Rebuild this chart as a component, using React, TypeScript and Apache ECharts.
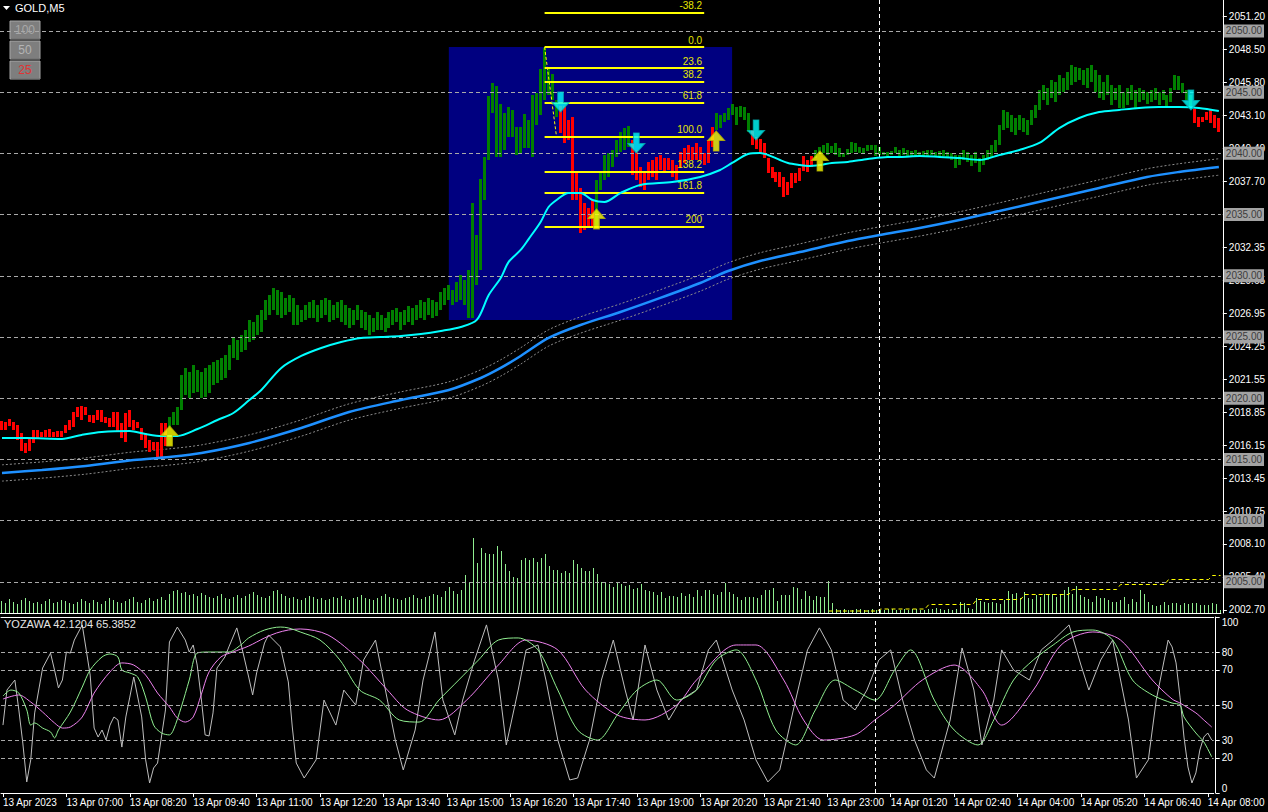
import React, { useEffect, useRef } from "react";
import * as echarts from "echarts";

const FONT = "Liberation Sans, Arial, sans-serif";

// ---------- price bars (M5, 306 bars) ----------
const LOWS = [
  2017.41, 2017.41, 2017.76, 2017.41, 2016.59, 2015.72, 2015.50, 2015.72, 2016.32, 2016.64,
  2016.86, 2016.86, 2016.86, 2016.81, 2016.86, 2016.86, 2017.13, 2017.41, 2017.68, 2018.49,
  2018.22, 2018.63, 2018.09, 2017.95, 2018.22, 2018.09, 2017.95, 2017.68, 2017.68, 2017.27,
  2016.72, 2016.45, 2017.68, 2017.41, 2017.54, 2016.59, 2015.91, 2015.63, 2015.77, 2015.09,
  2015.09, 2016.10, 2017.64, 2017.81, 2017.81, 2019.04, 2020.26, 2020.02, 2020.42, 2020.51,
  2020.02, 2020.10, 2020.42, 2021.08, 2021.24, 2021.49, 2021.65, 2022.30, 2023.28, 2023.12,
  2023.77, 2023.94, 2024.59, 2024.75, 2025.16, 2025.41, 2026.39, 2026.80, 2027.21, 2026.80,
  2026.55, 2026.80, 2027.04, 2025.98, 2025.98, 2026.23, 2026.39, 2026.55, 2026.55, 2026.23,
  2026.55, 2026.80, 2026.23, 2026.39, 2026.55, 2026.23, 2025.98, 2025.74, 2025.98, 2026.39,
  2025.74, 2025.57, 2025.16, 2025.41, 2025.57, 2025.57, 2025.41, 2025.74, 2025.98, 2026.23,
  2025.57, 2025.98, 2026.23, 2025.98, 2026.39, 2026.55, 2026.39, 2026.80, 2026.55, 2026.72,
  2027.21, 2027.61, 2028.02, 2027.61, 2027.86, 2028.02, 2027.61, 2026.55, 2026.55, 2029.25,
  2030.47, 2036.19, 2039.46, 2043.30, 2039.71, 2039.71, 2040.28, 2041.34, 2041.34, 2039.87,
  2040.03, 2040.44, 2040.44, 2039.71, 2042.32, 2043.14, 2044.36, 2044.77, 2044.36, 2042.97,
  2041.67, 2040.85, 2041.09, 2036.19, 2036.19, 2033.50, 2033.74, 2033.91, 2033.91, 2033.99,
  2037.01, 2037.83, 2038.07, 2038.89, 2039.71, 2040.11, 2040.28, 2040.52, 2038.23, 2037.83,
  2037.25, 2037.01, 2037.83, 2038.07, 2037.83, 2038.64, 2038.40, 2038.64, 2038.07, 2037.83,
  2038.89, 2039.22, 2039.46, 2039.46, 2039.46, 2039.46, 2039.05, 2039.22, 2040.52, 2041.91,
  2042.07, 2042.56, 2042.73, 2043.14, 2042.32, 2042.97, 2042.73, 2041.75, 2040.69, 2040.36,
  2040.03, 2039.62, 2038.40, 2037.99, 2037.66, 2037.25, 2036.44, 2036.60, 2037.17, 2037.58,
  2037.74, 2038.56, 2038.48, 2038.89, 2039.62, 2040.03, 2040.03, 2039.87, 2040.03, 2039.87,
  2039.71, 2039.71, 2039.87, 2040.03, 2040.11, 2040.03, 2040.03, 2040.20, 2040.28, 2039.79,
  2039.87, 2039.87, 2039.79, 2039.87, 2040.03, 2039.79, 2039.87, 2039.71, 2039.71, 2039.79,
  2039.71, 2039.71, 2039.79, 2039.87, 2039.71, 2039.71, 2039.79, 2039.62, 2039.46, 2038.81,
  2039.05, 2039.46, 2039.30, 2038.97, 2039.22, 2038.48, 2039.05, 2039.46, 2039.62, 2040.11,
  2040.69, 2041.91, 2042.07, 2041.75, 2041.50, 2041.91, 2041.75, 2041.50, 2042.32, 2042.89,
  2043.55, 2044.36, 2043.95, 2044.53, 2044.20, 2044.77, 2045.02, 2045.18, 2045.59, 2045.83,
  2046.00, 2045.59, 2045.34, 2045.83, 2045.02, 2044.53, 2044.36, 2044.77, 2043.95, 2044.36,
  2043.71, 2043.71, 2043.95, 2044.36, 2043.71, 2044.20, 2044.36, 2044.04, 2044.20, 2044.36,
  2043.95, 2044.36, 2043.71, 2044.20, 2045.18, 2045.18, 2044.93, 2044.36, 2043.71, 2042.48,
  2042.16, 2042.56, 2042.73, 2042.48, 2042.07, 2041.75,
];
const HIGHS = [
  2018.14, 2018.09, 2018.30, 2018.09, 2017.81, 2017.13, 2016.37, 2016.64, 2017.41, 2017.41,
  2017.27, 2017.41, 2017.49, 2017.27, 2017.32, 2017.32, 2017.81, 2018.22, 2018.90, 2019.26,
  2019.37, 2019.31, 2018.63, 2018.63, 2019.04, 2019.04, 2018.49, 2018.36, 2018.90, 2018.90,
  2017.95, 2018.77, 2019.04, 2018.22, 2018.09, 2017.54, 2017.13, 2016.59, 2016.45, 2016.45,
  2017.95, 2017.95, 2018.47, 2018.87, 2019.28, 2021.89, 2022.47, 2022.14, 2022.71, 2022.30,
  2022.14, 2022.47, 2022.71, 2022.96, 2023.12, 2023.28, 2023.53, 2024.35, 2024.92, 2024.75,
  2025.16, 2025.57, 2026.39, 2026.23, 2026.80, 2027.21, 2028.02, 2028.43, 2029.00, 2028.84,
  2028.68, 2028.19, 2028.43, 2028.19, 2027.61, 2027.21, 2027.61, 2027.86, 2028.02, 2027.61,
  2028.02, 2028.19, 2028.02, 2027.61, 2027.86, 2028.02, 2027.61, 2027.37, 2027.21, 2027.61,
  2027.21, 2027.04, 2026.80, 2026.55, 2027.04, 2026.80, 2026.55, 2027.04, 2027.21, 2027.37,
  2027.04, 2027.21, 2027.53, 2027.37, 2027.61, 2028.02, 2027.86, 2028.19, 2028.02, 2027.86,
  2028.68, 2029.00, 2029.25, 2028.84, 2029.49, 2030.06, 2029.66, 2030.47, 2035.94, 2033.33,
  2037.91, 2039.71, 2044.69, 2045.75, 2045.51, 2044.04, 2043.30, 2043.79, 2043.55, 2042.16,
  2042.16, 2043.22, 2042.73, 2044.77, 2044.93, 2046.90, 2048.61, 2047.06, 2046.49, 2044.36,
  2043.87, 2043.87, 2042.73, 2042.97, 2038.40, 2037.17, 2035.94, 2035.53, 2036.19, 2037.83,
  2038.40, 2039.87, 2040.03, 2040.28, 2041.09, 2041.75, 2042.07, 2042.24, 2041.09, 2040.28,
  2038.89, 2038.40, 2039.30, 2039.46, 2039.71, 2039.87, 2039.62, 2039.62, 2039.46, 2039.05,
  2040.11, 2040.44, 2040.69, 2040.52, 2040.85, 2040.52, 2040.03, 2041.09, 2042.16, 2043.30,
  2043.14, 2043.30, 2043.71, 2044.04, 2043.79, 2043.87, 2043.79, 2043.30, 2041.91, 2041.34,
  2041.17, 2040.85, 2039.62, 2038.89, 2038.48, 2038.48, 2038.07, 2037.66, 2038.40, 2038.40,
  2038.81, 2039.79, 2039.46, 2039.79, 2040.28, 2040.52, 2040.69, 2040.85, 2040.60, 2040.85,
  2040.44, 2040.03, 2040.36, 2040.93, 2040.85, 2040.52, 2040.44, 2040.69, 2040.69, 2040.69,
  2040.52, 2040.11, 2040.11, 2040.20, 2040.52, 2040.28, 2040.44, 2040.28, 2040.20, 2040.28,
  2040.11, 2040.20, 2040.28, 2040.28, 2040.11, 2040.20, 2040.28, 2040.11, 2040.03, 2039.87,
  2039.87, 2040.28, 2040.11, 2039.87, 2040.11, 2039.62, 2039.87, 2040.28, 2040.69, 2041.09,
  2042.32, 2043.55, 2043.38, 2043.14, 2042.89, 2043.14, 2042.89, 2042.73, 2043.55, 2043.95,
  2045.18, 2045.59, 2045.34, 2046.00, 2045.83, 2046.41, 2046.16, 2046.65, 2047.22, 2047.06,
  2046.98, 2046.81, 2046.98, 2047.22, 2046.81, 2046.41, 2045.83, 2046.41, 2045.59, 2045.34,
  2045.59, 2045.02, 2045.34, 2045.59, 2045.18, 2045.34, 2045.18, 2045.02, 2045.18, 2045.34,
  2045.02, 2045.18, 2044.77, 2045.34, 2046.41, 2046.32, 2045.75, 2045.18, 2044.77, 2043.63,
  2042.97, 2042.97, 2043.38, 2043.55, 2043.14, 2042.89,
];
// bar colouring of the trend indicator: [from, to, colour]
const TREND: [number, number, string][] = [
  [0, 41, "R"], [42, 139, "G"], [140, 148, "R"], [149, 157, "G"], [158, 178, "R"],
  [179, 187, "G"], [188, 203, "R"], [204, 298, "G"], [299, 305, "R"],
];

// ---------- tick volume ----------
const VOLUMES = [
  240, 200, 280, 220, 180, 260, 300, 240, 200, 220, 180, 240, 280, 200, 220, 260, 240, 200, 180, 220,
  280, 240, 200, 260, 220, 180, 240, 300, 260, 220, 200, 240, 280, 320, 220, 200, 260, 300, 240, 280,
  320, 260,
  380, 440, 460, 400, 420, 360, 380, 340, 400, 360, 320, 300, 340, 380, 300, 280, 320, 360, 300, 340,
  380, 420, 360, 320, 300, 340, 440, 460, 380, 340, 300, 320, 280, 260, 300, 340, 320, 280, 300, 260,
  280, 320, 300, 340, 280, 260, 300, 320, 360, 300, 280, 260, 300, 340, 380, 320, 300, 280, 260, 300,
  320, 360, 300, 280, 320, 340, 380, 360,
  316, 450, 530, 450, 384, 464, 770, 616, 1504, 1004, 1304, 1204, 1184, 1184, 1350, 1250, 984, 850, 730, 704,
  1064, 1104, 1064, 1104, 1024, 1104, 1184, 950, 864, 864, 810, 850, 796, 1064, 984, 904, 850, 850, 904, 784,
  624, 604, 584, 530, 604, 584, 550, 570, 484, 504, 584, 464, 450, 430, 370, 430, 304, 350, 350, 330,
  400, 340, 380, 320, 464, 350, 464, 464, 384, 370, 430, 596, 430, 384, 330, 264, 316, 330, 330, 304,
  370, 464, 464, 504, 250, 370, 370, 370, 516, 504, 284, 436, 350, 264, 350, 330, 316, 650, 210, 84,
  60, 80, 70, 60, 80, 90, 70, 60, 80, 70, 60, 70, 80, 90, 70, 60, 80, 70, 90, 80, 70, 60, 80, 90, 100, 80, 70, 90,
  66, 86, 220, 200, 100, 86, 306, 240, 220, 200, 220, 200, 186, 266, 434, 386, 400, 306, 420, 300,
  286, 354, 320, 374, 374, 374, 320, 386, 454, 520, 386, 540, 354, 320, 286, 220, 340, 306, 306, 254,
  220, 220, 254, 320, 186, 274, 220, 454, 386, 220, 154, 140, 154, 220, 154, 200, 200, 154, 200, 186,
  200, 200, 154, 166, 166, 200, 186,
  60,
];
const VOL_LEVEL: [number, number][] = [
  [207, 40], [219, 40], [220, 80], [231, 80], [232, 170], [243, 170], [244, 270], [255, 270],
  [256, 370], [267, 370], [268, 470], [279, 470], [280, 570], [291, 570], [292, 670], [302, 670],
  [303, 750], [305, 750],
];

// ---------- moving averages ----------
const FAST_MA: [number, number][] = [
  [0, 2016.75], [6, 2016.75], [15, 2016.67], [20, 2017.0], [25, 2017.24], [32, 2017.32], [36, 2017.07],
  [40, 2016.91], [44, 2016.91], [49, 2017.48], [54, 2018.22], [58, 2018.79], [62, 2019.85], [65, 2020.67],
  [70, 2022.47], [75, 2023.45], [80, 2024.10], [85, 2024.59], [90, 2024.92], [95, 2025.0], [100, 2025.08],
  [105, 2025.24], [110, 2025.49], [115, 2025.82], [119, 2026.39], [122, 2028.43], [125, 2029.82],
  [127, 2031.13], [130, 2032.11], [132, 2033.0], [135, 2034.40], [137, 2035.62], [139, 2036.19],
  [142, 2036.76], [145, 2036.76], [148, 2036.19], [151, 2036.03], [155, 2036.76], [160, 2037.42],
  [168, 2037.66], [175, 2038.07], [180, 2038.64], [183, 2039.22], [187, 2039.95], [190, 2040.03],
  [192, 2039.87], [195, 2039.46], [197, 2039.22], [200, 2039.05], [202, 2038.97], [205, 2039.05],
  [208, 2039.22], [212, 2039.30], [217, 2039.54], [222, 2039.71], [225, 2039.71], [230, 2039.79],
  [235, 2039.71], [240, 2039.62], [245, 2039.46], [250, 2039.87], [255, 2040.28], [260, 2040.85],
  [265, 2042.07], [270, 2042.89], [275, 2043.38], [280, 2043.55], [285, 2043.71], [290, 2043.79],
  [295, 2043.79], [300, 2043.71], [305, 2043.46],
];
const SLOW_MA: [number, number][] = [
  [0, 2013.89], [10, 2014.13], [21, 2014.46], [33, 2014.95], [42, 2015.20], [50, 2015.52], [62, 2016.34],
  [75, 2017.56], [87, 2018.87], [100, 2019.85], [112, 2020.67], [120, 2021.65], [125, 2022.47],
  [130, 2023.45], [137, 2024.92], [145, 2025.98], [155, 2027.04], [165, 2028.19], [175, 2029.41],
  [182, 2030.39], [190, 2031.21], [200, 2031.94], [212, 2032.84], [220, 2033.33], [230, 2033.91],
  [240, 2034.56], [250, 2035.29], [262, 2036.19], [275, 2037.17], [287, 2038.07], [295, 2038.48],
  [305, 2038.89],
];
const ENVELOPE_DEV = 0.00033;

// ---------- YOZAWA oscillator ----------
const OSC_MAIN: [number, number][] = [
  [0, 38.6], [1, 58.5], [3, 64.2], [4, 47.2], [5, 28.4], [6, 6.3], [7, 18.8], [8, 45.5], [10, 71.0], [12, 79.5],
  [13, 69.9], [14, 59.7], [15, 64.2], [16, 80.1], [17, 79.5], [18, 86.9], [20, 95.5], [21, 81.3], [22, 67.0],
  [23, 36.9], [24, 31.8], [25, 35.8], [26, 30.1], [27, 38.6], [28, 43.2], [29, 41.5], [30, 26.1], [31, 43.2],
  [32, 54.5], [33, 65.9], [35, 43.2], [36, 18.8], [37, 5.7], [38, 14.2], [39, 17.0], [41, 47.2], [42, 85.8],
  [44, 94.3], [46, 86.9], [47, 80.1], [48, 84.1], [49, 72.7], [50, 54.5], [51, 33.0], [52, 32.4], [53, 45.5],
  [54, 71.0], [56, 77.3], [57, 83.0], [59, 93.8], [60, 85.2], [62, 65.9], [63, 55.7], [64, 68.2], [66, 85.2],
  [67, 89.8], [70, 83.0], [72, 63.1], [73, 37.5], [74, 17.0], [76, 8.5], [79, 18.8], [81, 52.8], [84, 38.6],
  [86, 58.5], [89, 50.0], [91, 75.6], [94, 86.9], [96, 64.2], [99, 30.1], [101, 13.1], [104, 35.8], [106, 64.2],
  [109, 91.5], [111, 52.8], [114, 33.0], [116, 52.8], [119, 75.6], [122, 95.5], [125, 64.2], [127, 27.3],
  [130, 58.5], [132, 81.3], [135, 84.1], [137, 64.2], [140, 30.1], [143, 7.4], [145, 8.5], [148, 30.1],
  [151, 64.2], [154, 86.9], [157, 58.5], [159, 41.5], [162, 84.1], [165, 58.5], [168, 41.5], [171, 52.8],
  [175, 58.5], [178, 81.3], [180, 86.9], [184, 58.5], [187, 41.5], [190, 18.8], [193, 6.3], [196, 13.1],
  [200, 52.8], [203, 81.3], [206, 93.8], [209, 81.3], [212, 52.8], [215, 47.2], [218, 58.5], [221, 75.6],
  [224, 81.3], [227, 52.8], [230, 30.1], [233, 13.1], [235, 8.5], [239, 41.5], [242, 82.4], [245, 58.5],
  [247, 27.3], [250, 52.8], [252, 81.3], [255, 69.9], [259, 64.2], [262, 81.3], [265, 86.9], [269, 95.5],
  [272, 72.7], [274, 58.5], [277, 75.6], [280, 86.9], [284, 41.5], [286, 8.5], [289, 18.8], [291, 52.8],
  [294, 86.9], [295, 83.0], [296, 73.9], [297, 54.5], [298, 31.8], [299, 14.8], [300, 5.7], [301, 11.4],
  [302, 24.4], [303, 31.8], [304, 34.1], [305, 30.1],
];
const OSC_SIGNAL: [number, number][] = [
  [0, 55.1], [2, 58.5], [4, 56.8], [6, 47.2], [7, 38.6], [8, 39.8], [10, 36.9], [12, 34.7], [13, 31.3], [14, 35.8],
  [17, 46.0], [20, 60.2], [22, 69.9], [25, 77.3], [27, 79.0], [29, 77.3], [30, 69.9], [32, 68.2], [34, 65.9],
  [36, 54.5], [38, 38.6], [40, 34.1], [42, 33.0], [43, 35.8], [45, 48.9], [47, 64.2], [49, 79.5], [52, 80.1],
  [55, 80.1], [57, 80.1], [60, 84.1], [62, 88.1], [66, 92.6], [70, 94.3], [72, 93.8], [75, 91.5], [80, 86.9],
  [85, 75.6], [90, 58.5], [95, 52.8], [100, 41.5], [105, 40.3], [110, 52.8], [115, 64.2], [120, 75.6],
  [125, 86.9], [130, 88.1], [135, 81.3], [140, 58.5], [145, 35.8], [150, 30.1], [155, 44.3], [160, 58.5],
  [165, 64.2], [170, 52.8], [175, 58.5], [180, 75.6], [185, 81.3], [190, 64.2], [195, 35.8], [200, 27.3],
  [205, 47.2], [210, 64.2], [215, 58.5], [220, 52.8], [225, 69.9], [229, 81.3], [235, 52.8], [240, 35.8],
  [246, 27.3], [250, 41.5], [255, 64.2], [260, 75.6], [265, 84.1], [270, 91.5], [275, 92.6], [280, 86.9],
  [285, 64.2], [290, 55.7], [295, 51.1], [297, 50.0], [298, 43.2], [301, 34.1], [303, 29.0], [305, 20.5],
];
const OSC_SLOW: [number, number][] = [
  [0, 53.4], [4, 55.7], [7, 51.7], [10, 46.0], [13, 39.8], [15, 36.9], [17, 37.5], [20, 43.2], [23, 56.8],
  [27, 68.8], [30, 73.9], [33, 72.7], [36, 67.0], [39, 56.8], [42, 48.9], [44, 42.6], [46, 40.3], [48, 43.2],
  [50, 55.7], [52, 68.8], [55, 77.3], [58, 80.1], [62, 83.5], [66, 88.1], [69, 90.9], [72, 92.6], [75, 93.2],
  [82, 89.8], [90, 75.6], [97, 58.5], [102, 47.2], [110, 41.5], [117, 52.8], [125, 72.7], [132, 86.9],
  [140, 81.3], [147, 58.5], [155, 44.3], [162, 41.5], [170, 50.0], [175, 64.2], [185, 84.1], [190, 84.1],
  [197, 64.2], [202, 41.5], [207, 30.1], [215, 33.0], [220, 41.5], [225, 50.0], [232, 64.2], [240, 72.7],
  [247, 58.5], [252, 38.6], [260, 58.5], [267, 84.1], [275, 91.5], [282, 86.9], [290, 64.2], [295, 53.4],
  [297, 51.1], [301, 45.5], [303, 41.5], [305, 37.5],
];

// ---------- axes / annotations ----------
const PRICE_TICKS = [
  2051.2, 2048.5, 2045.8, 2043.1, 2040.4, 2037.7, 2035.0, 2032.35, 2029.65, 2026.95,
  2024.25, 2021.55, 2018.85, 2016.15, 2013.45, 2010.75, 2008.1, 2005.4, 2002.7,
];
// 2035.00 is shown by its level box, so the axis only puts a tick there
const PRICE_TICK_LABELS = [
  2051.2, 2048.5, 2045.8, 2043.1, 2040.4, 2037.7, 2032.35, 2029.65, 2026.95,
  2024.25, 2021.55, 2018.85, 2016.15, 2013.45, 2010.75, 2008.1, 2005.4, 2002.7,
];
const PRICE_LEVELS = [2050, 2045, 2040, 2035, 2030, 2025, 2020, 2015, 2010, 2005];
const OSC_TICKS = [0, 20, 30, 50, 70, 80, 100];
const OSC_LEVELS = [20, 30, 50, 70, 80];
const TIME_LABELS = [
  "13 Apr 2023", "13 Apr 07:00", "13 Apr 08:20", "13 Apr 09:40", "13 Apr 11:00", "13 Apr 12:20",
  "13 Apr 13:40", "13 Apr 15:00", "13 Apr 16:20", "13 Apr 17:40", "13 Apr 19:00", "13 Apr 20:20",
  "13 Apr 21:40", "13 Apr 23:00", "14 Apr 01:20", "14 Apr 02:40", "14 Apr 04:00", "14 Apr 05:20",
  "14 Apr 06:40", "14 Apr 08:00",
];
const DAY_SEPARATOR = "220";
const FIB_HIGH = 2048.69;
const FIB_LOW = 2041.34;
const FIB_ANCHOR_HIGH = 136;
const FIB_ANCHOR_LOW = 139;
const FIB_FROM = 136;
const FIB_TO = 176;
const FIB_LEVELS = [-38.2, 0, 23.6, 38.2, 61.8, 100, 138.2, 161.8, 200];
const FIB_LABELS = ["-38.2", "0.0", "23.6", "38.2", "61.8", "100.0", "138.2", "161.8", "200"];
const BOX_FROM = 112;
const BOX_TO = 183;
const BOX_TOP = 2048.69;
const BOX_BOTTOM = 2026.39;
const UP_ARROWS: [number, number][] = [[42, 2016.91], [149, 2034.64], [179, 2041.01], [205, 2039.38]];
const DOWN_ARROWS: [number, number][] = [[140, 2044.2], [159, 2040.85], [189, 2041.91], [298, 2044.36]];

const ARROW_UP = "path://M9,0L18,10L12,10L12,21L6,21L6,10L0,10Z";
const ARROW_DOWN = "path://M6,0L12,0L12,11L18,11L9,21L0,11L6,11Z";

function barColor(k: number) {
  for (const [a, b, c] of TREND) if (k >= a && k <= b) return c === "G" ? "#008000" : "#FF0000";
  return "#008000";
}

function buildOption(): any {
  const cats = LOWS.map((_, k) => String(k));
  const catAxis = (gridIndex: number, extra: any) => ({
    type: "category",
    gridIndex,
    data: cats,
    boundaryGap: true,
    axisLine: { show: false },
    axisTick: { show: false },
    axisLabel: { show: false },
    splitLine: { show: false },
    ...extra,
  });
  const range = FIB_HIGH - FIB_LOW;
  const fibPrice = (lv: number) => FIB_HIGH - (lv / 100) * range;
  const upper = SLOW_MA.map(([k, v]) => [k, v * (1 + ENVELOPE_DEV)]);
  const lower = SLOW_MA.map(([k, v]) => [k, v * (1 - ENVELOPE_DEV)]);

  const button = (y: number, label: string, color: string) => ({
    type: "group",
    x: 10,
    y,
    z: 0,
    children: [
      { type: "rect", shape: { x: 0, y: 0, width: 30, height: 18 }, style: { fill: "#7E7E7E", stroke: "#A5A5A5", lineWidth: 1 } },
      { type: "line", shape: { x1: 1, y1: 18, x2: 30, y2: 18 }, style: { stroke: "#5A5A5A", lineWidth: 1 } },
      { type: "text", x: 15, y: 9, style: { text: label, fill: color, font: `12px ${FONT}`, align: "center", verticalAlign: "middle" } },
    ],
  });

  return {
    animation: false,
    backgroundColor: "#000000",
    grid: [
      { left: -1.5, top: 0, width: 1224, height: 613 },
      { left: -1.5, top: 533, width: 1224, height: 80 },
      { left: -1.5, top: 617, width: 1224, height: 176 },
    ],
    xAxis: [
      catAxis(0, { axisLine: { show: true, onZero: false, lineStyle: { color: "#FFFFFF" } } }),
      catAxis(1, {}),
      catAxis(2, {
        position: "bottom",
        axisLine: { show: true, onZero: false, lineStyle: { color: "#FFFFFF" } },
        axisTick: { show: true, interval: 15, alignWithLabel: true, length: 4, lineStyle: { color: "#FFFFFF" } },
        axisLabel: {
          show: true,
          interval: 15,
          align: "left",
          margin: 4,
          color: "#FFFFFF",
          fontSize: 10,
          fontFamily: FONT,
          formatter: (_v: string, i: number) => TIME_LABELS[Math.round(i / 16)] ?? "",
        },
      }),
      catAxis(2, { position: "top", axisLine: { show: true, onZero: false, lineStyle: { color: "#FFFFFF" } } }),
    ],
    yAxis: [
      {
        gridIndex: 0,
        type: "value",
        position: "right",
        offset: 2,
        min: 2002.45,
        max: 2052.53,
        axisLine: { show: true, lineStyle: { color: "#FFFFFF" } },
        axisTick: { show: true, customValues: PRICE_TICKS, length: 4, lineStyle: { color: "#FFFFFF" } },
        axisLabel: {
          customValues: PRICE_TICK_LABELS,
          formatter: (v: number) => v.toFixed(2),
          color: "#FFFFFF",
          fontSize: 10,
          fontFamily: FONT,
          margin: 6,
        },
        splitLine: { show: false },
      },
      { gridIndex: 1, type: "value", min: 0, max: 1600, show: false, splitLine: { show: false } },
      {
        gridIndex: 2,
        type: "value",
        position: "right",
        offset: 2,
        min: 0,
        max: 100,
        axisLine: { show: true, lineStyle: { color: "#FFFFFF" } },
        axisTick: { show: true, customValues: OSC_TICKS, length: 4, lineStyle: { color: "#FFFFFF" } },
        axisLabel: {
          customValues: OSC_TICKS,
          color: "#FFFFFF",
          fontSize: 10,
          fontFamily: FONT,
          margin: 6,
          verticalAlignMaxLabel: "top",
          verticalAlignMinLabel: "bottom",
        },
        splitLine: { show: false },
      },
    ],
    series: [
      // Fibonacci rectangle
      {
        type: "line",
        xAxisIndex: 0,
        yAxisIndex: 0,
        z: 1,
        data: [],
        silent: true,
        markArea: {
          silent: true,
          itemStyle: { color: "#000080", opacity: 1 },
          data: [[{ coord: [BOX_FROM, BOX_TOP] }, { coord: [BOX_TO, BOX_BOTTOM] }]],
        },
      },
      // price grid lines + day separator
      {
        type: "line",
        xAxisIndex: 0,
        yAxisIndex: 0,
        z: 2,
        data: [],
        silent: true,
        markLine: {
          silent: true,
          symbol: "none",
          lineStyle: { color: "#A9A9A9", type: [4, 3], width: 1 },
          label: {
            show: true,
            position: "end",
            distance: 3,
            formatter: (p: any) => Number(p.value).toFixed(2),
            backgroundColor: "#A3A3A3",
            color: "#3C3C3C",
            fontSize: 10,
            fontFamily: FONT,
            padding: [2, 2, 1, 2],
          },
          data: [
            ...PRICE_LEVELS.map((v) => ({ yAxis: v })),
            { xAxis: DAY_SEPARATOR, label: { show: false }, lineStyle: { color: "#FFFFFF", type: [4, 3] } },
          ],
        },
      },
      // volumes (1px sticks, snapped to whole pixels)
      {
        type: "custom",
        xAxisIndex: 1,
        yAxisIndex: 1,
        z: 2,
        silent: true,
        encode: { x: 0, y: 1 },
        data: VOLUMES.map((v, k) => [k, v]),
        renderItem: (_params: any, api: any) => {
          const top = api.coord([api.value(0), api.value(1)]);
          const base = api.coord([api.value(0), 0]);
          const x = Math.floor(top[0]);
          return {
            type: "rect",
            shape: { x, y: Math.round(top[1]), width: 1, height: Math.round(base[1]) - Math.round(top[1]) },
            style: { fill: "#90EE90" },
          };
        },
      },
      {
        type: "line",
        xAxisIndex: 1,
        yAxisIndex: 1,
        z: 2,
        showSymbol: false,
        lineStyle: { color: "#FFFF00", width: 1, type: [4, 3] },
        data: VOL_LEVEL,
        silent: true,
      },
      // envelope
      {
        type: "line", xAxisIndex: 0, yAxisIndex: 0, z: 3, showSymbol: false, smooth: 0.3, silent: true,
        lineStyle: { color: "#8C8C8C", width: 1, type: [2, 2] }, data: upper,
      },
      {
        type: "line", xAxisIndex: 0, yAxisIndex: 0, z: 3, showSymbol: false, smooth: 0.3, silent: true,
        lineStyle: { color: "#8C8C8C", width: 1, type: [2, 2] }, data: lower,
      },
      // bars (3px high-low sticks, snapped to whole pixels)
      {
        type: "custom",
        xAxisIndex: 0,
        yAxisIndex: 0,
        z: 4,
        silent: true,
        encode: { x: 0, y: [1, 2] },
        data: LOWS.map((lo, k) => [k, lo, HIGHS[k]]),
        renderItem: (params: any, api: any) => {
          const k = api.value(0);
          const lo = api.coord([k, api.value(1)]);
          const hi = api.coord([k, api.value(2)]);
          const x = Math.floor(lo[0]) - 1;
          const yTop = Math.round(hi[1]);
          const h = Math.max(1, Math.round(lo[1]) - yTop);
          return {
            type: "rect",
            shape: { x, y: yTop, width: 3, height: h },
            style: { fill: barColor(params.dataIndex) },
          };
        },
      },
      // moving averages
      {
        type: "line", xAxisIndex: 0, yAxisIndex: 0, z: 5, showSymbol: false, smooth: 0.3, silent: true,
        lineStyle: { color: "#1E90FF", width: 2.5 }, data: SLOW_MA,
      },
      {
        type: "line", xAxisIndex: 0, yAxisIndex: 0, z: 5, showSymbol: false, smooth: 0.3, silent: true,
        lineStyle: { color: "#00FFFF", width: 2 }, data: FAST_MA,
      },
      // Fibonacci
      {
        type: "line",
        xAxisIndex: 0,
        yAxisIndex: 0,
        z: 6,
        silent: true,
        symbol: "rect",
        symbolSize: 4,
        itemStyle: { color: "#FFFF00" },
        lineStyle: { color: "#FFFF00", width: 1, type: [3, 2] },
        data: [[FIB_ANCHOR_HIGH, FIB_HIGH], [FIB_ANCHOR_LOW, FIB_LOW]],
        markLine: {
          silent: true,
          symbol: "none",
          lineStyle: { color: "#FFFF00", width: 2, type: "solid" },
          label: {
            show: true,
            position: "insideEndTop",
            distance: 2,
            color: "#E6E600",
            fontSize: 10,
            fontFamily: FONT,
          },
          data: FIB_LEVELS.map((lv, i) => [
            { coord: [FIB_FROM, fibPrice(lv)], label: { formatter: FIB_LABELS[i] } },
            { coord: [FIB_TO, fibPrice(lv)] },
          ]),
        },
      },
      // signal arrows
      {
        type: "scatter", xAxisIndex: 0, yAxisIndex: 0, z: 7, silent: true,
        symbol: ARROW_UP, symbolSize: [17, 20],
        itemStyle: { color: "#FFFF00", borderColor: "#B8B800", borderWidth: 1 },
        data: UP_ARROWS,
      },
      {
        type: "scatter", xAxisIndex: 0, yAxisIndex: 0, z: 7, silent: true,
        symbol: ARROW_DOWN, symbolSize: [17, 20],
        itemStyle: { color: "#00FFFF", borderColor: "#00B0B0", borderWidth: 1 },
        data: DOWN_ARROWS,
      },
      // oscillator
      {
        type: "line", xAxisIndex: 2, yAxisIndex: 2, z: 3, showSymbol: false, silent: true,
        lineStyle: { color: "#BEBEBE", width: 1 }, data: OSC_MAIN,
        markLine: {
          silent: true,
          symbol: "none",
          label: { show: false },
          lineStyle: { color: "#A9A9A9", type: [4, 3], width: 1 },
          data: [
            ...OSC_LEVELS.map((v) => ({ yAxis: v })),
            { xAxis: DAY_SEPARATOR, lineStyle: { color: "#FFFFFF", type: [4, 3] } },
          ],
        },
      },
      {
        type: "line", xAxisIndex: 2, yAxisIndex: 2, z: 3, showSymbol: false, smooth: 0.3, silent: true,
        lineStyle: { color: "#EE82EE", width: 1 }, data: OSC_SLOW,
      },
      {
        type: "line", xAxisIndex: 2, yAxisIndex: 2, z: 3, showSymbol: false, smooth: 0.3, silent: true,
        lineStyle: { color: "#90EE90", width: 1 }, data: OSC_SIGNAL,
      },
    ],
    graphic: [
      { type: "polygon", z: 10, shape: { points: [[3, 6], [10, 6], [6.5, 10]] }, style: { fill: "#FFFFFF" } },
      { type: "text", z: 10, x: 15, y: 8, style: { text: "GOLD,M5", fill: "#FFFFFF", font: `11px ${FONT}`, verticalAlign: "middle" } },
      button(21, "100", "#A8A8A8"),
      button(41, "50", "#B4B4B4"),
      button(61, "25", "#E03434"),
      { type: "text", z: 10, x: 4, y: 624, style: { text: "YOZAWA 42.1204 65.3852", fill: "#E6E6E6", font: `11px ${FONT}`, verticalAlign: "middle" } },
    ],
  };
}

export default function App() {
  const ref = useRef<HTMLDivElement>(null);
  useEffect(() => {
    document.body.style.margin = "0";
    document.body.style.background = "#000";
    const chart = echarts.init(ref.current as HTMLDivElement, null, { renderer: "svg" });
    chart.setOption(buildOption());
    return () => chart.dispose();
  }, []);
  return (
    <div
      ref={ref}
      style={{ position: "absolute", left: 0, top: 0, width: 1268, height: 812, background: "#000" }}
    />
  );
}
